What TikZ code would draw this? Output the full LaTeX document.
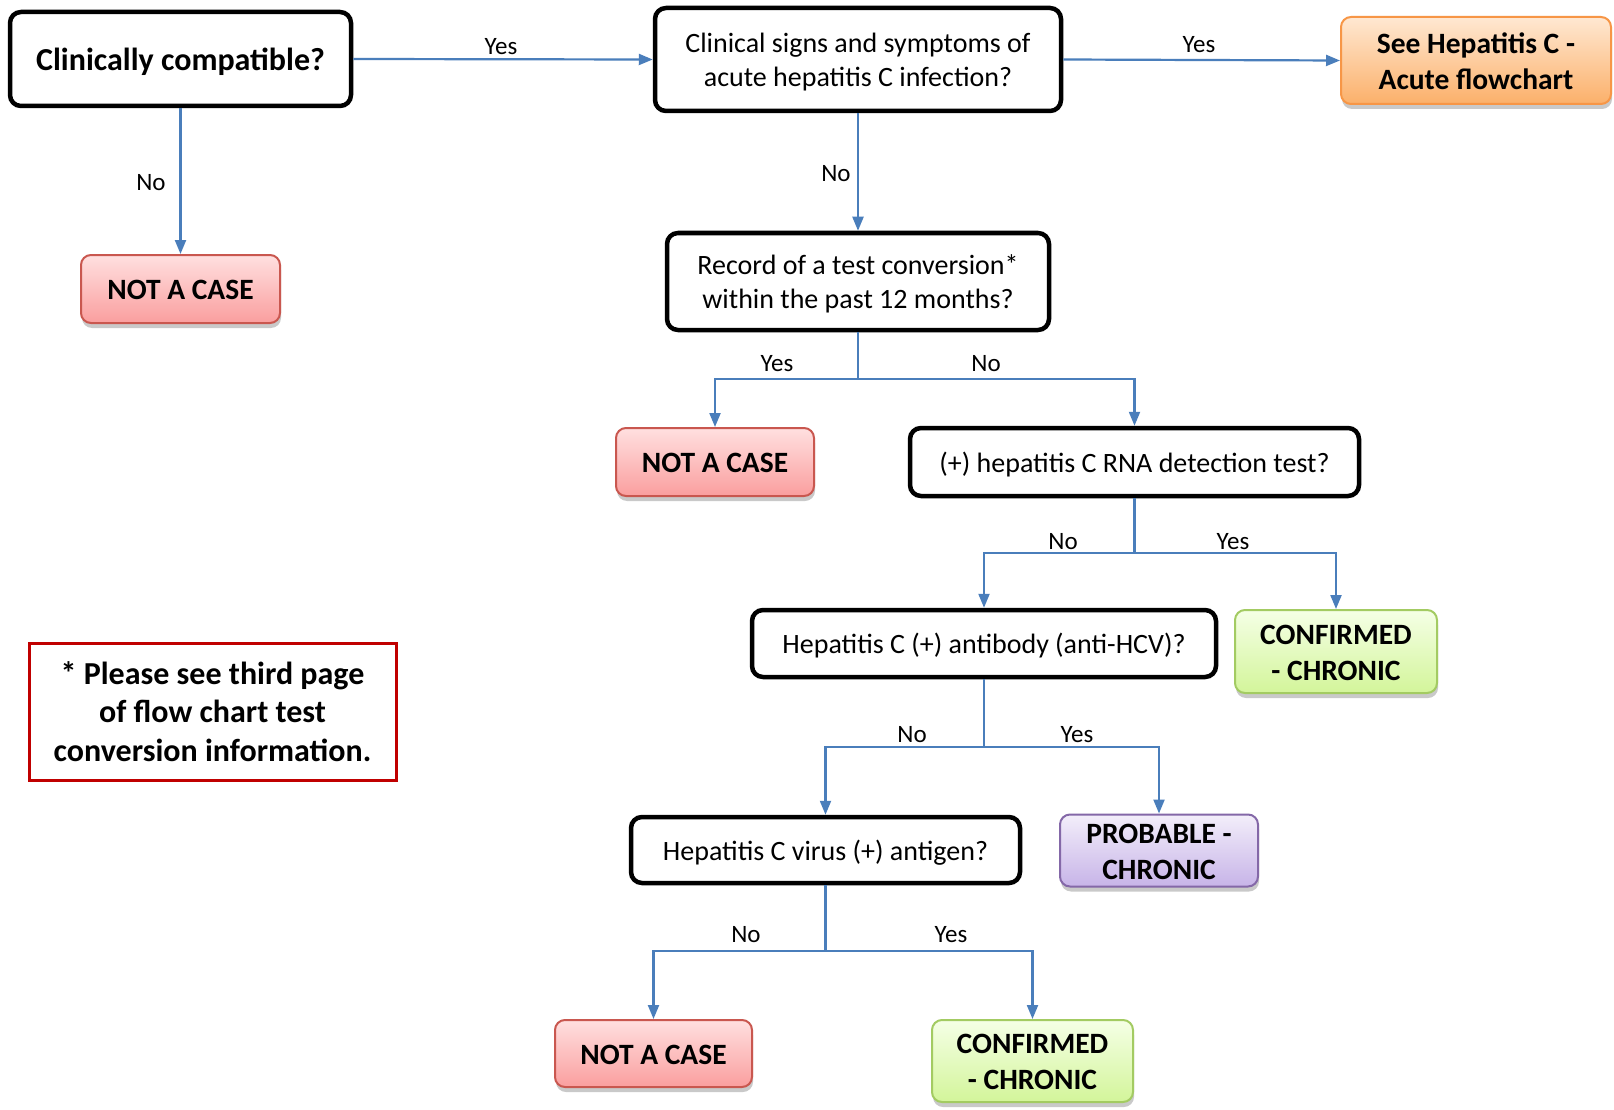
\documentclass[tikz,border=0pt]{standalone}
\usepackage{fontspec}
\setmainfont{Carlito}
\usetikzlibrary{arrows.meta,shadows}
\definecolor{lineblue}{HTML}{4A7EBB}
\definecolor{redtop}{HTML}{FFE0E0}
\definecolor{redbot}{HTML}{FA9E9E}
\definecolor{redborder}{HTML}{C9574F}
\definecolor{ortop}{HTML}{FFE8D2}
\definecolor{orbot}{HTML}{FBB06A}
\definecolor{orborder}{HTML}{F79646}
\definecolor{grtop}{HTML}{F5FFE6}
\definecolor{grbot}{HTML}{D3F59A}
\definecolor{grborder}{HTML}{A3CB62}
\definecolor{putop}{HTML}{F3EEFA}
\definecolor{pubot}{HTML}{C7B4E8}
\definecolor{puborder}{HTML}{8468A8}
\definecolor{noteborder}{HTML}{C00000}
\newcommand\wtop{\rule[-0.25em]{0pt}{1.22em}}
\tikzset{
  wordline/.style={execute at begin node={\wtop},
    execute at end node={\rule[-0.25em]{0pt}{0.25em}}},
  decision/.style={draw=black, line width=4.5pt, rounded corners=11pt, fill=white,
    align=center, inner sep=0pt, font=\fontsize{28}{34}\selectfont, wordline},
  outcome/.style={draw=#1border, line width=2pt, rounded corners=10pt,
    top color=#1top, bottom color=#1bot, align=center, inner sep=0pt,
    font=\fontsize{29.5}{36}\selectfont\bfseries, wordline,
    drop shadow={shadow xshift=1pt, shadow yshift=-5pt, opacity=0.35, fill=black!60}},
  arr/.style={draw=lineblue, line width=2.2pt, -{Triangle[length=14pt,width=11pt]}},
  seg/.style={draw=lineblue, line width=2.2pt},
  lbl/.style={font=\fontsize{25}{28}\selectfont, inner sep=0pt},
}
\begin{document}
\begin{tikzpicture}[x=1pt,y=-1pt]
\useasboundingbox[fill=white] (0,0) rectangle (1614,1110);

% decision nodes
\node[decision, minimum width=341pt, minimum height=94pt, font=\fontsize{32}{36}\selectfont\bfseries] (A) at (180.5,59) {Clinically compatible?};
\node[decision, minimum width=406pt, minimum height=103pt] (B) at (858,59.5) {\wtop Clinical signs and symptoms of\\acute hepatitis C infection?};
\node[decision, minimum width=382pt, minimum height=97pt] (D) at (858,281.5) {\wtop Record of a test conversion*\\within the past 12 months?};
\node[decision, minimum width=449pt, minimum height=68pt] (E) at (1134.5,462) {(+) hepatitis C RNA detection test?};
\node[decision, minimum width=464pt, minimum height=67pt] (F) at (984,643.5) {Hepatitis C (+) antibody (anti-HCV)?};
\node[decision, minimum width=389pt, minimum height=66pt] (G) at (825.5,850) {Hepatitis C virus (+) antigen?};

% outcome nodes
\node[outcome=or, minimum width=270pt, minimum height=87pt] (C) at (1476,60.5) {\wtop See Hepatitis C -\\Acute flowchart};
\node[outcome=red, minimum width=199pt, minimum height=68pt] (N1) at (180.5,289) {NOT A CASE};
\node[outcome=red, minimum width=198pt, minimum height=68pt] (N2) at (715,462) {NOT A CASE};
\node[outcome=gr, minimum width=202pt, minimum height=83pt] (CF1) at (1336,651.5) {\wtop CONFIRMED\\- CHRONIC};
\node[outcome=pu, minimum width=198pt, minimum height=67pt] (P) at (1159,850.5) {\wtop PROBABLE -\\CHRONIC};
\node[outcome=red, minimum width=197pt, minimum height=67pt] (N3) at (653.5,1053.5) {NOT A CASE};
\node[outcome=gr, minimum width=201pt, minimum height=82pt] (CF2) at (1032.5,1061) {\wtop CONFIRMED\\- CHRONIC};

% note
\node[draw=noteborder, line width=3pt, fill=white, minimum width=367pt, minimum height=137pt,
  align=center, inner sep=0pt, font=\fontsize{32}{38.5}\selectfont\bfseries] (note) at (212.5,711.5)
  {* Please see third page\\of flow chart test\\conversion information.};

% branch points
\coordinate (d1) at (858,379);
\coordinate (e1) at (1134.5,553);
\coordinate (f1) at (984,747);
\coordinate (g1) at (825.5,951);

% connectors
\draw[arr] (A.east) -- (B.west);
\draw[arr] (A.south) -- (N1.north);
\draw[arr] (B.east) -- (C.west);
\draw[arr] (B.south) -- (D.north);

\draw[seg] (D.south) -- (d1);
\draw[arr] (d1) -| (N2.north);
\draw[arr] (d1) -| (E.north);

\draw[seg] (E.south) -- (e1);
\draw[arr] (e1) -| (F.north);
\draw[arr] (e1) -| (CF1.north);

\draw[seg] (F.south) -- (f1);
\draw[arr] (f1) -| (G.north);
\draw[arr] (f1) -| (P.north);

\draw[seg] (G.south) -- (g1);
\draw[arr] (g1) -| (N3.north);
\draw[arr] (g1) -| (CF2.north);

% labels
\node[lbl] (l1) at (501,47) {Yes};
\node[lbl] (l2) at (151,182.5) {No};
\node[lbl] (l3) at (1199,45) {Yes};
\node[lbl] (l4) at (836,173.5) {No};
\node[lbl] (l5) at (777,363.5) {Yes};
\node[lbl] (l6) at (986,363.5) {No};
\node[lbl] (l7) at (1063,541.5) {No};
\node[lbl] (l8) at (1233,541.5) {Yes};
\node[lbl] (l9) at (912,734.5) {No};
\node[lbl] (l10) at (1077,734.5) {Yes};
\node[lbl] (l11) at (746,934.5) {No};
\node[lbl] (l12) at (951,934.5) {Yes};
\end{tikzpicture}
\end{document}
